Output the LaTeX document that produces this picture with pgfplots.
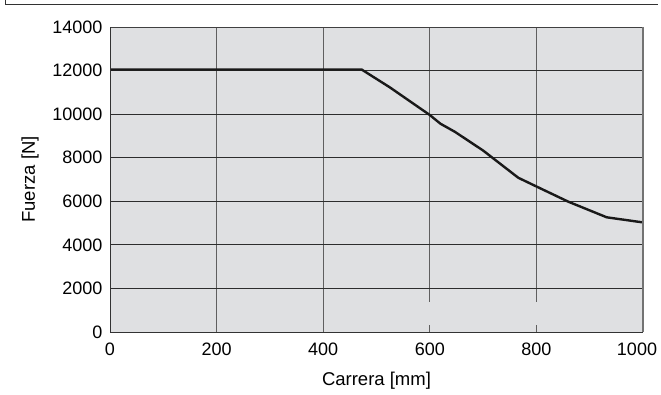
\documentclass[border=0pt]{standalone}
\usepackage{pgfplots}
\pgfplotsset{compat=1.18}
\usepackage{fontspec}
\setmainfont{Liberation Sans}
\definecolor{bgc}{RGB}{223,224,226}
\definecolor{vgrid}{RGB}{95,95,95}
\definecolor{hgrid}{RGB}{45,45,45}
\definecolor{frm}{RGB}{50,50,50}
\begin{document}
\begin{tikzpicture}[x=1pt,y=1pt]
\useasboundingbox (0,0) rectangle (661,394);
\draw[frm,line width=1pt] (5,394) -- (5,389) -- (658,389);
\begin{axis}[
  at={(110pt,62pt)}, anchor=south west,
  scale only axis, width=533pt, height=305pt,
  xmin=0, xmax=1000, ymin=0, ymax=14000,
  xtick={0,200,400,600,800,1000},
  xticklabels={0,200,400,600,800,{\hspace{-12pt}1000}},
  ytick={0,2000,4000,6000,8000,10000,12000,14000},
  scaled ticks=false,
  /pgf/number format/fixed,
  /pgf/number format/1000 sep={},
  /pgf/number format/assume math mode=true,
  major tick length=0pt,
  tick style={draw=none},
  axis background/.style={fill=bgc},
  axis line style={draw=none},
  grid=major,
  x grid style={vgrid,line width=1pt},
  y grid style={hgrid,line width=0.9pt},
  label style={font=\fontsize{18.5}{22}\selectfont},
  ticklabel style={font=\fontsize{18}{21}\selectfont},
  yticklabel style={xshift=-4pt},
  xticklabel style={yshift=-7pt},
  xlabel={Carrera [mm]},
  ylabel={Fuerza [N]},
  xlabel style={at={([yshift=-53pt]axis description cs:0.5,0)}, anchor=base},
  ylabel style={at={([xshift=-75pt]axis description cs:0,0.5)}, anchor=base},
  after end axis/.code={
    \fill[bgc] (axis cs:596,320) rectangle (axis cs:604,1380);
    \fill[bgc] (axis cs:796,320) rectangle (axis cs:804,1380);
    \draw[black!75,line width=1pt] (rel axis cs:0,1) -- (rel axis cs:1,1);
    \draw[black!55,line width=1.8pt] (rel axis cs:1,1) -- (rel axis cs:1,0);
    \draw[black!80,line width=1pt] (rel axis cs:0,1) -- (rel axis cs:0,0) -- (rel axis cs:1,0);
  },
]
\addplot[color=black!90, line width=2.4pt, line join=round] coordinates {
  (0,12050) (472,12050) (525,11230) (600,9960) (620,9560) (647,9190)
  (700,8330) (766,7080) (800,6680) (860,5980) (932,5264) (1000,5030)
};
\end{axis}
\end{tikzpicture}
\end{document}
